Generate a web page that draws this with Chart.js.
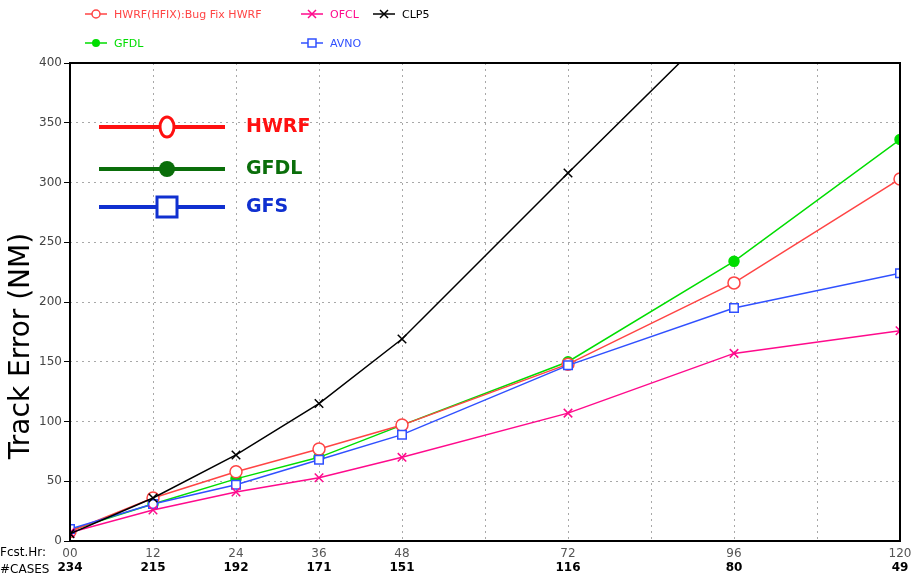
<!DOCTYPE html>
<html>
<head>
<meta charset="utf-8">
<script src="https://cdn.jsdelivr.net/npm/chart.js@4/dist/chart.umd.min.js"></script>
<style>
  html, body { margin: 0; padding: 0; background: #fff; }
  #wrap { width: 912px; height: 579px; position: relative; }
</style>
</head>
<body>
<div id="wrap"><canvas id="myChart" width="912" height="579"></canvas></div>
<script>
// forecast hours and number of cases
const hours = [0, 12, 24, 36, 48, 72, 96, 120];
const cases = [234, 215, 192, 171, 151, 116, 80, 49];

// track errors (NM) per model
const hwrf = [8, 36, 58, 77, 97, 148, 216, 303];
const gfdl = [9, 31, 52, 70, 97, 150, 234, 336];
const ofcl = [7, 26, 41, 53, 70, 107, 157, 176];
const clp5 = [6, 36, 72, 115, 169, 308, 445, 590];
const avno = [10, 31, 47, 68, 89, 147, 195, 224];

const yTicks = [0, 50, 100, 150, 200, 250, 300, 350, 400];

const RED = "#ff4444", GREEN = "#00dd00", PINK = "#ff0a8c", BLACK = "#000000", BLUE = "#3050ff";

const pts = arr => hours.map((h, i) => ({ x: h, y: arr[i] }));

function series(label, arr, color, style, fill) {
  return {
    label: label,
    data: pts(arr),
    borderColor: color,
    backgroundColor: fill ? color : "#ffffff",
    pointStyle: style,
    pointRadius: fill ? 5 : 6,
    pointBorderWidth: 1.5,
    borderWidth: 1.5,
    tension: 0,
  };
}

// keep the plot edges where the original has them
const fixPad = s => { s.paddingLeft = 0; s.paddingRight = 12; };

// frame + custom labels + legends
const decor = {
  id: "decor",
  afterDraw(chart) {
    const ctx = chart.ctx;
    const a = chart.chartArea;
    ctx.save();
    ctx.strokeStyle = "#000";
    ctx.lineWidth = 2;
    ctx.strokeRect(a.left, a.top, a.right - a.left, a.bottom - a.top);

    // y title
    ctx.save();
    ctx.translate(22, 346);
    ctx.rotate(-Math.PI / 2);
    ctx.font = "28px 'DejaVu Sans'";
    ctx.fillStyle = "#000";
    ctx.textAlign = "center";
    ctx.textBaseline = "middle";
    ctx.fillText("Track Error (NM)", 0, 0);
    ctx.restore();

    // row titles at bottom
    ctx.font = "12px 'DejaVu Sans'";
    ctx.fillStyle = "#000";
    ctx.textAlign = "left";
    ctx.textBaseline = "middle";
    ctx.fillText("Fcst.Hr:", 0, 553);
    ctx.fillText("#CASES", 0, 570);

    // top legend
    function sym(x, y, color, style, fill, r) {
      ctx.strokeStyle = color;
      ctx.fillStyle = color;
      ctx.lineWidth = 1.5;
      ctx.beginPath();
      ctx.moveTo(x - 11, y); ctx.lineTo(x + 11, y); ctx.stroke();
      ctx.beginPath();
      if (style === "circle") {
        ctx.arc(x, y, r, 0, Math.PI * 2);
        if (fill) ctx.fill(); else { ctx.fillStyle = "#fff"; ctx.fill(); ctx.stroke(); }
      } else if (style === "rect") {
        ctx.fillStyle = "#fff";
        ctx.fillRect(x - r, y - r, 2 * r, 2 * r);
        ctx.strokeRect(x - r, y - r, 2 * r, 2 * r);
      } else {
        ctx.moveTo(x - r, y - r); ctx.lineTo(x + r, y + r);
        ctx.moveTo(x - r, y + r); ctx.lineTo(x + r, y - r);
        ctx.stroke();
      }
    }
    const items = [
      [96, 14, RED, "circle", false, "HWRF(HFIX):Bug Fix HWRF"],
      [312, 14, PINK, "cross", false, "OFCL"],
      [384, 14, BLACK, "cross", false, "CLP5"],
      [96, 43, GREEN, "circle", true, "GFDL"],
      [312, 43, BLUE, "rect", false, "AVNO"],
    ];
    items.forEach(it => {
      sym(it[0], it[1], it[2], it[3], it[4], 4);
      ctx.font = "11px 'DejaVu Sans'";
      ctx.fillStyle = it[2];
      ctx.textAlign = "left";
      ctx.textBaseline = "middle";
      ctx.fillText(it[5], it[0] + 18, it[1] + 1);
    });

    // inner legend
    const inner = [
      [127, "#ff1010", "circle", false, "HWRF"],
      [169, "#0a6e0a", "circle", true, "GFDL"],
      [207, "#1030d0", "rect", false, "GFS"],
    ];
    inner.forEach(it => {
      const y = it[0];
      ctx.strokeStyle = it[1];
      ctx.fillStyle = it[1];
      ctx.lineWidth = 4;
      ctx.beginPath();
      ctx.moveTo(99, y); ctx.lineTo(225, y); ctx.stroke();
      ctx.lineWidth = 3;
      ctx.beginPath();
      if (it[2] === "circle") {
        if (it[3]) { ctx.arc(167, y, 8, 0, Math.PI * 2); ctx.fill(); }
        else { ctx.ellipse(167, y, 7, 10, 0, 0, Math.PI * 2); ctx.fillStyle = "#fff"; ctx.fill(); ctx.stroke(); }
      } else {
        ctx.fillStyle = "#fff";
        ctx.fillRect(157, y - 10, 20, 20);
        ctx.strokeRect(157, y - 10, 20, 20);
      }
      ctx.font = "bold 19px 'DejaVu Sans'";
      ctx.fillStyle = it[1];
      ctx.textAlign = "left";
      ctx.textBaseline = "middle";
      ctx.fillText(it[4], 246, y);
    });
    ctx.restore();
  }
};

const config = {
  type: "line",
  data: {
    datasets: [
      series("CLP5", clp5, BLACK, "crossRot", false),
      series("OFCL", ofcl, PINK, "crossRot", false),
      series("AVNO", avno, BLUE, "rect", false),
      series("HWRF(HFIX):Bug Fix HWRF", hwrf, RED, "circle", false),
      series("GFDL", gfdl, GREEN, "circle", true),
    ],
  },
  options: {
    responsive: false,
    animation: false,
    layout: { padding: { top: 63, right: 0, bottom: 0, left: 0 } },
    plugins: { legend: { display: false }, tooltip: { enabled: false } },
    scales: {
      x: {
        type: "linear",
        position: "bottom",
        min: 0, max: 120,
        afterFit: s => { s.height = 20; fixPad(s); },
        grid: { color: "#a8a8a8", drawTicks: false },
        border: { display: false, dash: [2, 4] },
        ticks: {
          stepSize: 12, autoSkip: false, maxRotation: 0, padding: 6,
          color: "#555", font: { family: "'DejaVu Sans'", size: 12 },
          callback: v => hours.includes(v) ? (v === 0 ? "00" : String(v)) : "",
        },
      },
      x2: {
        type: "linear",
        position: "bottom",
        min: 0, max: 120,
        afterFit: s => { s.height = 18; fixPad(s); },
        afterBuildTicks: s => { s.ticks = hours.map(h => ({ value: h })); },
        grid: { display: false, drawTicks: false },
        border: { display: false },
        ticks: {
          autoSkip: false, maxRotation: 0, padding: 0,
          color: "#000", font: { family: "'DejaVu Sans'", size: 12, weight: "bold" },
          callback: v => String(cases[hours.indexOf(v)]),
        },
      },
      y: {
        min: 0, max: 400,
        afterFit: s => { s.width = 70; },
        afterBuildTicks: s => { s.ticks = yTicks.map(v => ({ value: v })); },
        grid: { color: "#a8a8a8", tickLength: 6, tickColor: "#000", tickBorderDash: [] },
        border: { display: false, dash: [2, 4] },
        ticks: { color: "#444", padding: 2, font: { family: "'DejaVu Sans'", size: 12 } },
      },
    },
  },
  plugins: [decor],
};

const myChart = new Chart(document.getElementById("myChart"), config);
</script>
</body>
</html>
